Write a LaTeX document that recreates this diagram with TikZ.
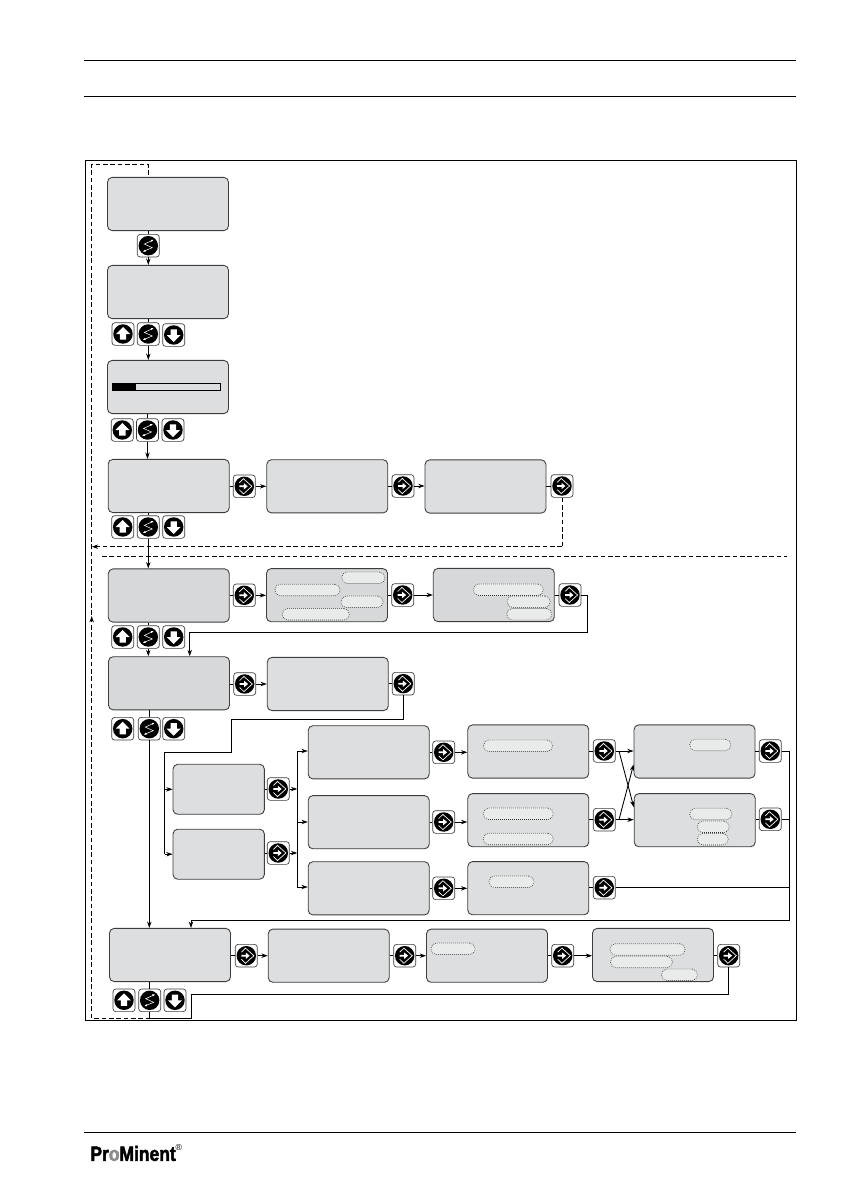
\documentclass[tikz,border=0pt]{standalone}
\usepackage{fontspec}
\usepackage{tikz}
\usetikzlibrary{arrows.meta,calc}
\newfontfamily\logofont[BoldFeatures={FakeBold=2.4}]{Liberation Sans}
\definecolor{lcd}{HTML}{DCDEDF}
\definecolor{lcddark}{HTML}{D6D8D9}
\definecolor{pillgray}{HTML}{E9EAEA}
\definecolor{rim}{HTML}{3C3C3C}

\begin{document}
\begin{tikzpicture}[
  x=0.75pt,y=-0.75pt,
  line width=0.65pt,
  flow/.style={-{Stealth[length=4.8pt,width=3.3pt]}},
  retline/.style={dash pattern=on 3.4pt off 2.1pt},
  lcdbox/.style={rectangle,draw=rim,fill=lcd,rounded corners=3.5pt,minimum width=90.75pt,minimum height=39.9pt,inner sep=0pt},
  lcdsmall/.style={lcdbox,minimum width=68.5pt,minimum height=37.5pt},
  pill/.style={rectangle,draw=black!80,densely dotted,line width=0.5pt,fill=pillgray,rounded corners=4pt,minimum width=#1*0.75pt,minimum height=8.6pt,inner sep=0pt},
  btn/.style={rectangle,draw=rim,fill=white,line width=0.5pt,rounded corners=2.2pt,minimum width=16.5pt,minimum height=17pt,inner sep=0pt},
  upbtn/.style={btn,path picture={
    \fill[black] (path picture bounding box.center) circle (7.3pt);
    \fill[white,sharp corners,shift={(path picture bounding box.center)}] (0,-7) -- (7,0) -- (3.2,0) -- (3.2,5.6) -- (-3.2,5.6) -- (-3.2,0) -- (-7,0) -- cycle;}},
  downbtn/.style={btn,path picture={
    \fill[black] (path picture bounding box.center) circle (7.3pt);
    \fill[white,sharp corners,shift={(path picture bounding box.center)}] (0,7) -- (7,0) -- (3.2,0) -- (3.2,-5.6) -- (-3.2,-5.6) -- (-3.2,0) -- (-7,0) -- cycle;}},
  sbtn/.style={btn,path picture={
    \fill[black] (path picture bounding box.center) circle (7.3pt);
    \draw[white,line width=0.4pt,sharp corners,shift={(path picture bounding box.center)}] (4.5,-5.5) -- (-4,-1.6) -- (4,2) -- (-4.5,5.5);
    \fill[white,sharp corners,shift={(path picture bounding box.center)}] (5.2,-5.8) -- (2.4,-5.9) -- (3.3,-3.9) -- cycle (-5.2,5.8) -- (-2.4,5.9) -- (-3.3,3.9) -- cycle;}},
  entbtn/.style={btn,path picture={
    \fill[black] (path picture bounding box.center) circle (7.3pt);
    \draw[white,line width=0.5pt,sharp corners,shift={(path picture bounding box.center)}] (-5,-3.5) -- (-0.8,-7.6) -- (7.6,0) -- (-0.8,7.6) -- (-5,3.5);
    \fill[white,sharp corners,shift={(path picture bounding box.center)}] (-5,-0.9) -- (-0.5,-0.9) -- (-0.5,-3.2) -- (3.4,0) -- (-0.5,3.2) -- (-0.5,0.9) -- (-5,0.9) -- cycle;}}
]
\useasboundingbox (0,0) rectangle (842,1191);

\draw[line width=0.75pt] (84,61) -- (796,61);
\draw[line width=0.75pt] (84,96.5) -- (796,96.5);
\draw[line width=0.75pt] (84,1132) -- (796,1132);
\draw[line width=0.75pt] (85.5,160.5) rectangle (796,1020);

\node[lcdbox] (home) at (168,204) {};
\node[lcdbox] (menu) at (168,292) {};
\node[lcdbox] (level) at (168,387) {};
\node[lcdbox] (info) at (168.7,486) {};
\node[lcdbox] (infoB) at (327.3,486.3) {};
\node[lcdbox] (infoC) at (485.5,486.5) {};
\node[lcdbox,fill=lcddark] (range) at (168.8,595.5) {};
\node[lcdbox,fill=lcddark] (rangeB) at (327,595.2) {};
\node[lcdbox,fill=lcddark] (rangeC) at (493.8,595) {};
\node[lcdbox,fill=lcddark] (cal) at (169,683.3) {};
\node[lcdbox] (calB) at (327.8,684) {};
\node[lcdsmall] (modeA) at (218.7,789.3) {};
\node[lcdsmall] (modeB) at (218.7,854.2) {};
\node[lcdbox] (sensA) at (368.7,752.3) {};
\node[lcdbox] (sensB) at (368.7,822.2) {};
\node[lcdbox] (sensC) at (368.7,888.3) {};
\node[lcdbox] (valA) at (528.3,751.5) {};
\node[lcdbox] (valB) at (528.3,820.2) {};
\node[lcdbox] (valC) at (528.3,888.2) {};
\node[lcdbox] (endA) at (694.5,751.5) {};
\node[lcdbox] (endB) at (694.7,820.2) {};
\node[lcdbox] (sys) at (170,955) {};
\node[lcdbox] (sysB) at (328.7,955.7) {};
\node[lcdbox] (sysC) at (487,955.7) {};
\node[lcdbox] (sysD) at (653,955) {};

\node[rectangle,draw=black,line width=0.7pt,fill=lcd,minimum width=81.5pt,minimum height=5.6pt,inner sep=0pt] (bar) at (166.3,387) {};
\node[rectangle,fill=black,minimum width=17.8pt,minimum height=5.6pt,inner sep=0pt] (barfill) at (123.9,387) {};

\node[pill=43] (rp1) at (363.3,577.8) {};
\node[pill=65] (rp2) at (307.5,590) {};
\node[pill=42] (rp3) at (362,601.8) {};
\node[pill=67] (rp4) at (315.8,614.3) {};
\node[pill=70] (rq1) at (508.3,589.7) {};
\node[pill=43] (rq2) at (528.7,601.7) {};
\node[pill=45] (rq3) at (529.2,614.3) {};
\node[pill=69] (va1) at (518,745.8) {};
\node[pill=70] (vb1) at (518.3,813.8) {};
\node[pill=70] (vb2) at (518.3,839) {};
\node[pill=45] (vc1) at (511.5,881.8) {};
\node[pill=41] (ea1) at (710.3,745) {};
\node[pill=42] (eb1) at (710.8,814) {};
\node[pill=32] (eb2) at (713.3,826.8) {};
\node[pill=31] (eb3) at (712.8,839.2) {};
\node[pill=44] (sc1) at (453,948.8) {};
\node[pill=75] (sd1) at (647.5,949.5) {};
\node[pill=62] (sd2) at (641.5,962) {};
\node[pill=36] (sd3) at (679.5,974.8) {};

\node[sbtn] (sHome) at (148.3,245.7) {};
\node[upbtn] (uMenu) at (123,334) {};
\node[sbtn] (sMenu) at (148.3,334) {};
\node[downbtn] (dMenu) at (173.7,335) {};
\node[upbtn] (uLevel) at (122.3,430) {};
\node[sbtn] (sLevel) at (147.5,430) {};
\node[downbtn] (dLevel) at (173,430) {};
\node[upbtn] (uInfo) at (122.7,527) {};
\node[sbtn] (sInfo) at (148.3,527) {};
\node[downbtn] (dInfo) at (173.7,527) {};
\node[upbtn] (uRange) at (122.7,637) {};
\node[sbtn] (sRange) at (148.3,637) {};
\node[downbtn] (dRange) at (173.7,637) {};
\node[upbtn] (uCal) at (122.7,728.7) {};
\node[sbtn] (sCal) at (149.3,728.7) {};
\node[downbtn] (dCal) at (173.7,728.7) {};
\node[upbtn] (uSys) at (124,1000.3) {};
\node[sbtn] (sSys) at (149.7,1000.3) {};
\node[downbtn] (dSys) at (175,1000.3) {};

\node[entbtn] (eInfo) at (244.3,486.3) {};
\node[entbtn] (eInfoB) at (403,486) {};
\node[entbtn] (eInfoC) at (562,486) {};
\node[entbtn] (eRange) at (244.3,595.3) {};
\node[entbtn] (eRangeB) at (402.7,595) {};
\node[entbtn] (eRangeC) at (570,595) {};
\node[entbtn] (eCal) at (244.7,684) {};
\node[entbtn] (eCalB) at (403.3,683.7) {};
\node[entbtn] (eModeA) at (278.3,789) {};
\node[entbtn] (eModeB) at (278.3,853) {};
\node[entbtn] (eSensA) at (443.7,752.3) {};
\node[entbtn] (eSensB) at (443.7,822) {};
\node[entbtn] (eSensC) at (443.7,888.3) {};
\node[entbtn] (eValA) at (604.3,751) {};
\node[entbtn] (eValB) at (604.3,819.7) {};
\node[entbtn] (eValC) at (604.3,887.7) {};
\node[entbtn] (eEndA) at (770.3,751) {};
\node[entbtn] (eEndB) at (770.3,819.3) {};
\node[entbtn] (eSys) at (246.3,955.7) {};
\node[entbtn] (eSysB) at (404.7,955.7) {};
\node[entbtn] (eSysC) at (562.7,955.7) {};
\node[entbtn] (eSysD) at (728.7,955.7) {};

\node[anchor=west,inner sep=0pt] (logo) at (90,1153.5) {\scalebox{0.85}[1]{\logofont\bfseries\fontsize{15.4pt}{15.4pt}\selectfont Pr\textcolor{black!45}{o}Minent}};
\node[anchor=west,inner sep=0pt,xshift=-0.8pt] (regmark) at ([yshift=4.5pt]logo.east) {\logofont\fontsize{6.5pt}{6.5pt}\selectfont ®};

\coordinate (loopFoot) at (150.3,1018.3);
\coordinate (loopLeft) at (91.7,1018.3);
\coordinate (loopTop) at (91.7,164.3);
\coordinate (loopMid) at (91.7,616);
\coordinate (backEnd) at (91.7,546.7);
\coordinate (backCorner) at (562,546.7);
\coordinate (splitL) at (102,556.7);
\coordinate (splitR) at (787,556.7);
\coordinate (rangeTurn) at (587.3,632.3);
\coordinate (rangeIn) at (189.7,632.3);
\coordinate (calTurnA) at (403.3,719.3);
\coordinate (calTurnB) at (231.7,719.3);
\coordinate (calTurnC) at (231.7,752);
\coordinate (modeBus) at (164.7,752);
\coordinate (sensTop) at (297.3,751);
\coordinate (sensBot) at (297.3,887);
\coordinate (endBus) at (789.7,751);
\coordinate (endFoot) at (789.7,920);
\coordinate (sysIn) at (191,920);
\coordinate (sysTurnA) at (728.7,994.3);
\coordinate (sysTurnB) at (191.7,994.3);
\coordinate (sysTurnC) at (191.7,1018.3);

\draw (home.south -| sHome) -- (sHome);
\draw[flow] (sHome) -- (menu.north -| sHome);
\draw (menu.south -| sMenu) -- (sMenu);
\draw[flow] (sMenu) -- (level.north -| sMenu);
\draw (level.south -| sLevel) -- (sLevel);
\draw[flow] (sLevel) -- (info.north -| sLevel);
\draw (info.south -| sInfo) -- (sInfo);
\draw[flow] (sInfo) -- (range.north -| sInfo);
\draw (range.south -| sRange) -- (sRange);
\draw[flow] (sRange) -- (cal.north -| sRange);
\draw (cal.south -| sCal) -- (sCal);
\draw[flow] (sCal) -- (sys.north -| sCal);
\draw (sys.south -| sSys) -- (sSys);
\draw (sSys) -- (sSys |- loopFoot);

\draw (eInfo -| info.east) -- (eInfo);
\draw[flow] (eInfo) -- (eInfo -| infoB.west);
\draw (eInfoB -| infoB.east) -- (eInfoB);
\draw[flow] (eInfoB) -- (eInfoB -| infoC.west);
\draw (eInfoC -| infoC.east) -- (eInfoC);
\draw[retline] (eInfoC) -- (backCorner);
\draw[retline,flow] (backCorner) -- (backEnd);

\draw (eRange -| range.east) -- (eRange);
\draw[flow] (eRange) -- (eRange -| rangeB.west);
\draw (eRangeB -| rangeB.east) -- (eRangeB);
\draw[flow] (eRangeB) -- (eRangeB -| rangeC.west);
\draw (eRangeC -| rangeC.east) -- (eRangeC);
\draw[flow] (eRangeC) -| (rangeTurn) -- (rangeIn) -- (rangeIn |- cal.north);

\draw (eCal -| cal.east) -- (eCal);
\draw[flow] (eCal) -- (eCal -| calB.west);
\draw (eCalB -| calB.east) -- (eCalB);
\draw (eCalB) -- (calTurnA) -- (calTurnB) -- (calTurnC) -- (modeBus) -- (modeBus |- modeB);
\draw[flow] (modeBus |- modeA) -- (modeA.west);
\draw[flow] (modeBus |- modeB) -- (modeB.west);

\draw (eModeA -| modeA.east) -- (eModeA);
\draw[flow] (eModeA) -- (eModeA -| sensTop);
\draw (eModeB -| modeB.east) -- (eModeB);
\draw[flow] (eModeB) -- (eModeB -| sensTop);
\draw (sensTop) -- (sensBot);
\draw[flow] (sensTop) -- (sensTop -| sensA.west);
\draw[flow] (sensTop |- eSensB) -- (eSensB -| sensB.west);
\draw[flow] (sensBot) -- (sensBot -| sensC.west);

\draw (eSensA -| sensA.east) -- (eSensA);
\draw[flow] (eSensA) -- (eSensA -| valA.west);
\draw (eSensB -| sensB.east) -- (eSensB);
\draw[flow] (eSensB) -- (eSensB -| valB.west);
\draw (eSensC -| sensC.east) -- (eSensC);
\draw[flow] (eSensC) -- (eSensC -| valC.west);

\draw (eValA -| valA.east) -- (eValA);
\draw[flow] (eValA) -- (eValA -| endA.west);
\draw[flow] ([xshift=11pt]eValA.center) -- ([yshift=-10.5pt]endB.north west);
\draw (eValB -| valB.east) -- (eValB);
\draw[flow] (eValB) -- (eValB -| endB.west);
\draw[flow] ([xshift=11pt]eValB.center) -- ([yshift=-30pt]endA.north west);
\draw (eValC -| valC.east) -- (eValC);
\draw (eValC) -- (eValC -| endBus);

\draw (eEndA -| endA.east) -- (eEndA);
\draw (eEndB -| endB.east) -- (eEndB);
\draw (eEndA) -- (endBus) -- (endFoot) -- (sysIn);
\draw (eEndB) -- (eEndB -| endBus);
\draw[flow] (sysIn) -- (sysIn |- sys.north);

\draw (eSys -| sys.east) -- (eSys);
\draw[flow] (eSys) -- (eSys -| sysB.west);
\draw (eSysB -| sysB.east) -- (eSysB);
\draw[flow] (eSysB) -- (eSysB -| sysC.west);
\draw (eSysC -| sysC.east) -- (eSysC);
\draw[flow] (eSysC) -- (eSysC -| sysD.west);
\draw (eSysD -| sysD.east) -- (eSysD);
\draw (eSysD) -- (sysTurnA) -- (sysTurnB) -- (sysTurnC) -- (loopFoot);

\draw[retline] (loopFoot) -- (loopLeft) -- (loopTop) -- (loopTop -| sHome) -- (home.north -| sHome);
\draw[retline,flow] (loopLeft) -- (loopMid);
\draw[retline] (splitL) -- (splitR);
\end{tikzpicture}
\end{document}
